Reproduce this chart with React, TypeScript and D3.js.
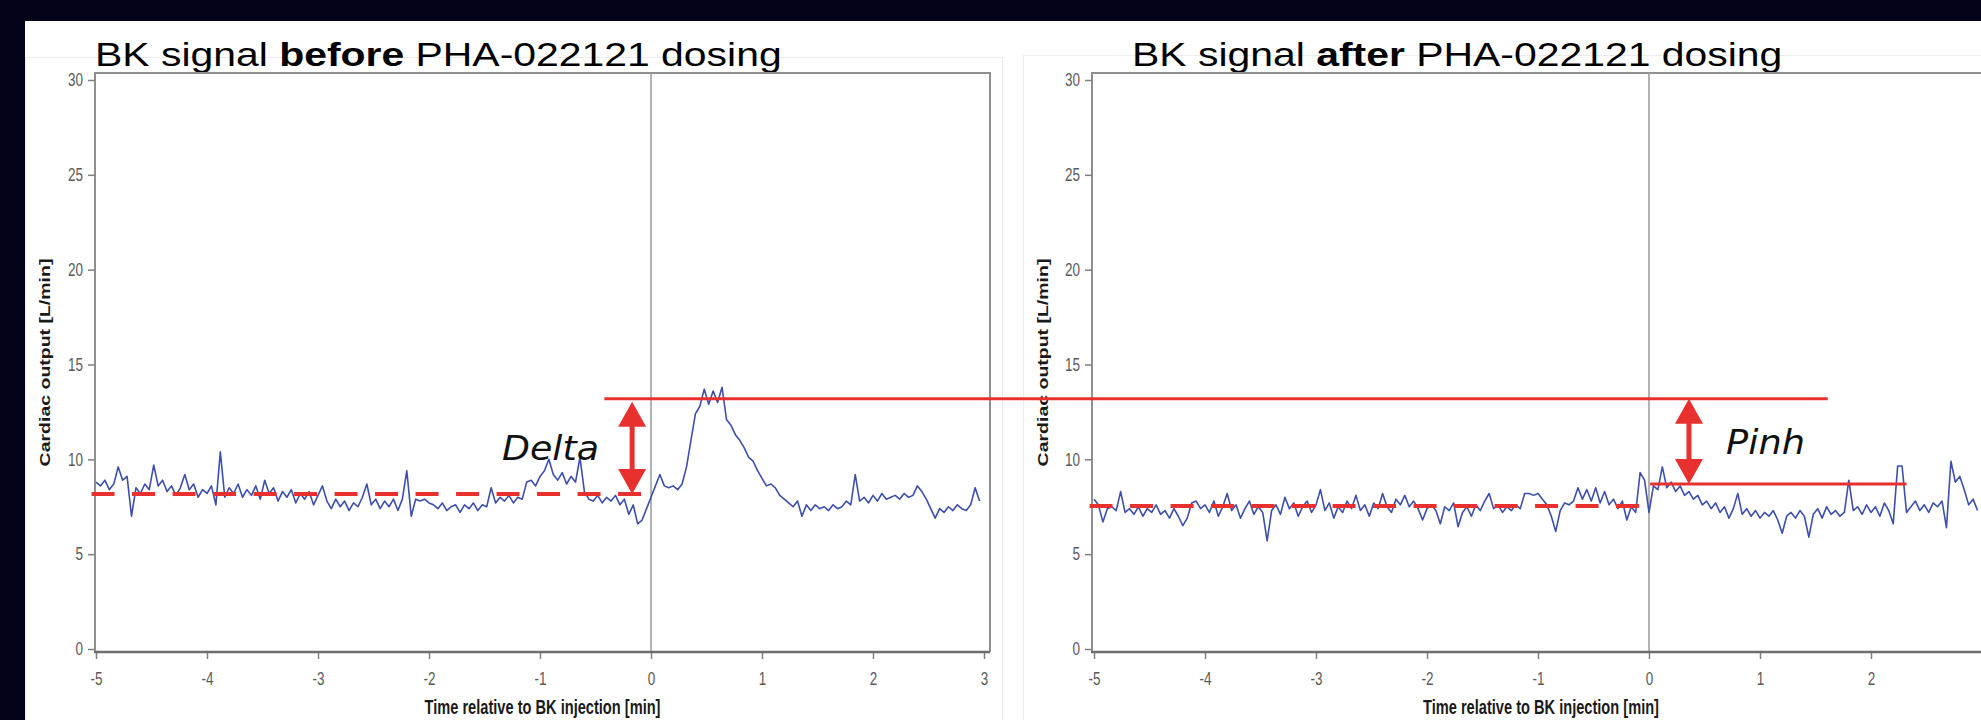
import { useEffect, useRef } from 'react';
import * as d3 from 'd3';

// samples start at -5 min, one every 0.04 min
const T0 = -5;
const DT = 0.04;

// cardiac output [L/min], before dosing
const beforeValues = [
  8.8, 8.6, 8.9, 8.4, 8.7, 9.6, 8.9, 9.1, 7.0, 8.5,
  8.2, 8.7, 8.4, 9.7, 8.6, 8.9, 8.3, 8.6, 8.1, 8.5,
  9.2, 8.4, 8.7, 8.0, 8.4, 8.2, 8.6, 7.6, 10.4, 8.0,
  8.5, 8.2, 8.7, 8.0, 8.4, 8.1, 8.6, 7.9, 8.9, 8.2,
  8.5, 7.8, 8.3, 8.0, 8.4, 7.7, 8.2, 7.9, 8.3, 7.6,
  8.1, 8.6, 7.8, 7.4, 7.9, 7.5, 7.8, 7.3, 7.7, 7.5,
  8.0, 8.7, 7.6, 7.9, 7.4, 7.8, 7.5, 7.9, 7.3, 7.9,
  9.4, 7.0, 7.9, 7.8, 7.9, 7.7, 7.6, 7.4, 7.7, 7.3,
  7.5, 7.6, 7.2, 7.6, 7.4, 7.7, 7.3, 7.6, 7.5, 8.5,
  7.7, 8.0, 7.8, 8.1, 7.7, 8.0, 7.9, 8.8, 8.9, 8.6,
  9.1, 9.4, 10.0, 9.2, 8.9, 9.3, 8.7, 9.1, 8.8, 10.1,
  8.3, 7.9, 7.8, 8.1, 7.7, 8.0, 7.8, 8.1, 7.6, 7.9,
  7.1, 7.6, 6.6, 6.8, 7.4, 8.0, 8.6, 9.2, 8.6, 8.5,
  8.6, 8.4, 8.7, 9.6, 11.0, 12.4, 12.8, 13.7, 12.9, 13.6,
  13.0, 13.8, 12.1, 11.8, 11.3, 11.0, 10.6, 10.1, 9.9, 9.4,
  9.0, 8.6, 8.7, 8.5, 8.1, 7.9, 7.7, 7.5, 7.8, 7.0,
  7.6, 7.3, 7.6, 7.4, 7.5, 7.3, 7.6, 7.4, 7.5, 7.8,
  7.6, 9.2, 7.8, 8.0, 7.7, 8.1, 7.8, 8.2, 7.9, 8.0,
  8.1, 7.9, 8.2, 8.0, 8.1, 8.6, 8.3, 7.9, 7.4, 6.9,
  7.4, 7.2, 7.5, 7.3, 7.6, 7.4, 7.3, 7.6, 8.5, 7.8,
];

// cardiac output [L/min], after dosing
const afterValues = [
  7.9, 7.6, 6.7, 7.4, 7.5, 7.3, 8.3, 7.2, 7.4, 7.1,
  7.5, 7.0, 7.4, 7.2, 7.6, 7.1, 7.3, 6.9, 7.4, 7.0,
  6.5, 6.9, 7.7, 7.8, 7.4, 7.6, 7.2, 7.8, 7.0, 7.5,
  8.2, 7.3, 7.6, 6.9, 7.4, 7.8, 7.1, 7.5, 7.2, 5.7,
  7.3, 7.6, 7.1, 8.0, 7.4, 7.7, 7.0, 7.5, 7.8, 7.2,
  7.6, 8.4, 7.3, 7.7, 6.9, 7.5, 7.2, 7.8, 7.4, 8.1,
  7.3, 7.6, 7.0, 7.7, 7.4, 8.2, 7.5, 7.2, 7.9, 7.6,
  8.1, 7.5, 7.8, 7.4, 6.8, 7.4, 7.6, 7.3, 6.6, 7.5,
  7.3, 7.7, 6.45, 7.2, 7.5, 7.0, 7.6, 7.3, 7.8, 8.2,
  7.4, 7.6, 7.2, 7.5, 7.3, 7.6, 7.4, 8.2, 8.2, 8.1,
  8.2, 7.9, 7.6, 7.0, 6.2, 7.3, 7.7, 7.6, 7.8, 8.5,
  7.9, 8.4, 7.8, 8.5, 7.7, 8.3, 7.6, 7.9, 7.4, 7.8,
  6.8, 7.5, 7.2, 9.3, 8.9, 7.2, 8.6, 8.4, 9.6, 8.5,
  8.8, 8.3, 8.6, 8.1, 8.3, 7.9, 8.1, 7.6, 7.8, 7.4,
  7.7, 7.2, 7.5, 6.9, 7.4, 8.2, 7.1, 7.4, 7.0, 7.3,
  6.9, 7.2, 7.0, 7.3, 6.8, 6.1, 7.0, 7.2, 6.9, 7.3,
  7.0, 5.9, 7.1, 7.4, 6.9, 7.5, 7.1, 7.3, 7.0, 7.2,
  8.9, 7.3, 7.5, 7.1, 7.6, 7.2, 7.5, 7.0, 7.7, 7.3,
  6.6, 9.65, 9.65, 7.2, 7.5, 7.8, 7.3, 7.6, 7.2, 7.7,
  7.5, 7.8, 6.4, 9.9, 8.8, 9.1, 8.4, 7.6, 7.9, 7.3,
];

const yTicks = [0, 5, 10, 15, 20, 25, 30];
const xTicks = [-5, -4, -3, -2, -1, 0, 1, 2, 3];

// annotation levels (L/min)
const peakLevel = 13.2;
const beforeBaseline = 8.17;
const afterBaseline = 7.54;
const afterPeak = 8.7;

const RED = '#e8312f';
const BLUE = '#3d4fab';
const FONT = "'Liberation Sans', Arial, sans-serif";
const VIEW_W = 1981;

export default function App() {
  const svgRef = useRef(null);

  useEffect(() => {
    document.body.style.margin = '0';
    const svg = d3.select(svgRef.current);
    svg.selectAll('*').remove();

    svg.append('rect').attr('width', VIEW_W).attr('height', 720).attr('fill', '#03041a');
    svg.append('rect').attr('x', 25).attr('y', 21).attr('width', 1956).attr('height', 699).attr('fill', '#fff');
    // faint figure borders
    svg.append('rect').attr('x', 25.5).attr('y', 57.5).attr('width', 977).attr('height', 700)
      .attr('fill', 'none').attr('stroke', '#ececec');
    svg.append('rect').attr('x', 1023.5).attr('y', 55.5).attr('width', 1000).attr('height', 700)
      .attr('fill', 'none').attr('stroke', '#ececec');

    const y = d3.scaleLinear().domain([0, 30]).range([649, 80]);

    const panels = [
      { values: beforeValues, range: [96, 984], axisX: 95, frameRight: 990, titleX: 95, word: 'before', yLabelX: 45, base: beforeBaseline },
      { values: afterValues, range: [1094, 1982], axisX: 1092, frameRight: 1990, titleX: 1132, word: 'after', yLabelX: 1043, base: afterBaseline },
    ];

    const scales = panels.map(p => {
      const x = d3.scaleLinear().domain([-5, 3]).range(p.range);
      const g = svg.append('g');
      const top = y(30) - 7;
      const bottom = 652;

      // title
      const title = g.append('text')
        .attr('transform', `translate(${p.titleX},66) scale(1.24,1)`)
        .attr('font-family', FONT).attr('font-size', 33).attr('fill', '#000');
      title.append('tspan').text('BK signal ');
      title.append('tspan').attr('font-weight', 'bold').text(p.word);
      title.append('tspan').text(' PHA-022121 dosing');

      // frame
      g.append('path')
        .attr('d', `M${p.axisX},${bottom}V${top}H${p.frameRight}V${bottom}`)
        .attr('fill', 'none').attr('stroke', '#8f8f8f').attr('stroke-width', 2);
      g.append('line')
        .attr('x1', x(0)).attr('x2', x(0)).attr('y1', top).attr('y2', bottom)
        .attr('stroke', '#9a9a9a').attr('stroke-width', 1.5);

      // y axis
      const ya = g.append('g').attr('transform', `translate(${p.axisX},0)`)
        .call(d3.axisLeft(y).tickValues(yTicks).tickSize(7).tickFormat(d => String(d)));
      ya.select('.domain').remove();
      ya.selectAll('line').attr('stroke', '#808080').attr('stroke-width', 1.5);
      ya.selectAll('text')
        .attr('x', -16).attr('transform', 'scale(0.75,1)')
        .attr('font-family', FONT).attr('font-size', 18).attr('fill', '#5a5a5a');

      // x axis (labels past the picture edge are not drawn)
      const xa = g.append('g').attr('transform', `translate(0,${bottom})`)
        .call(d3.axisBottom(x).tickValues(xTicks).tickSize(7).tickPadding(13)
          .tickFormat(d => (x(d as number) > VIEW_W - 10 ? '' : String(d))));
      xa.select('.domain').remove();
      xa.selectAll('line').attr('stroke', '#808080').attr('stroke-width', 1.5);
      xa.selectAll('text')
        .attr('transform', 'scale(0.75,1)')
        .attr('font-family', FONT).attr('font-size', 18).attr('fill', '#5a5a5a');
      g.append('line')
        .attr('x1', p.axisX - 1).attr('x2', p.frameRight).attr('y1', bottom).attr('y2', bottom)
        .attr('stroke', '#6e6e6e').attr('stroke-width', 2.5);

      // axis titles
      g.append('text')
        .attr('transform', `translate(${(p.axisX + p.frameRight) / 2},714) scale(0.75,1)`)
        .attr('text-anchor', 'middle').attr('font-family', FONT).attr('font-weight', 'bold')
        .attr('font-size', 19.5).attr('fill', '#1a1a1a')
        .text('Time relative to BK injection [min]');
      g.append('text')
        .attr('transform', `translate(${p.yLabelX},${(top + bottom) / 2}) scale(0.75,1) rotate(-90)`)
        .attr('text-anchor', 'middle').attr('dy', '0.35em').attr('font-family', FONT).attr('font-weight', 'bold')
        .attr('font-size', 19.5).attr('fill', '#1a1a1a')
        .text('Cardiac output [L/min]');

      // signal
      const line = d3.line<number>().x((_, i) => x(T0 + i * DT)).y(d => y(d));
      g.append('path').datum(p.values).attr('d', line)
        .attr('fill', 'none').attr('stroke', BLUE).attr('stroke-width', 1.6).attr('stroke-linejoin', 'round');

      // dashed baseline
      g.append('line')
        .attr('x1', x(-5.04)).attr('x2', x(-0.07)).attr('y1', y(p.base)).attr('y2', y(p.base))
        .attr('stroke', RED).attr('stroke-width', 4).attr('stroke-dasharray', '23 17.5');
      return x;
    });

    const [xl, xr] = scales;
    const ann = svg.append('g');
    // peak level line spanning both panels
    ann.append('line')
      .attr('x1', xl(-0.42)).attr('x2', xr(1.61)).attr('y1', y(peakLevel)).attr('y2', y(peakLevel))
      .attr('stroke', RED).attr('stroke-width', 3);
    ann.append('line')
      .attr('x1', xr(0.01)).attr('x2', xr(2.32)).attr('y1', y(afterPeak)).attr('y2', y(afterPeak))
      .attr('stroke', RED).attr('stroke-width', 3);

    const arrow = (cx: number, y1: number, y2: number) => {
      const hw = 14, hl = 25;
      ann.append('line').attr('x1', cx).attr('x2', cx).attr('y1', y1 + hl - 2).attr('y2', y2 - hl + 2)
        .attr('stroke', RED).attr('stroke-width', 5);
      ann.append('path').attr('d', `M${cx},${y1}L${cx + hw},${y1 + hl}L${cx - hw},${y1 + hl}Z`).attr('fill', RED);
      ann.append('path').attr('d', `M${cx},${y2}L${cx + hw},${y2 - hl}L${cx - hw},${y2 - hl}Z`).attr('fill', RED);
    };
    arrow(xl(-0.17), y(peakLevel) + 3, y(beforeBaseline));
    arrow(xr(0.36), y(peakLevel), y(afterPeak));

    ann.append('text').attr('x', 502).attr('y', 460)
      .attr('font-family', "'DejaVu Sans', sans-serif").attr('font-style', 'italic').attr('font-size', 34)
      .attr('textLength', 97).attr('lengthAdjust', 'spacingAndGlyphs').attr('fill', '#111').text('Delta');
    ann.append('text').attr('x', 1726).attr('y', 454)
      .attr('font-family', "'DejaVu Sans', sans-serif").attr('font-style', 'italic').attr('font-size', 34)
      .attr('textLength', 79).attr('lengthAdjust', 'spacingAndGlyphs').attr('fill', '#111').text('Pinh');
  }, []);

  return (
    <svg ref={svgRef} width={VIEW_W} height={720} style={{ display: 'block', position: 'absolute', left: 0, top: 0 }} />
  );
}
